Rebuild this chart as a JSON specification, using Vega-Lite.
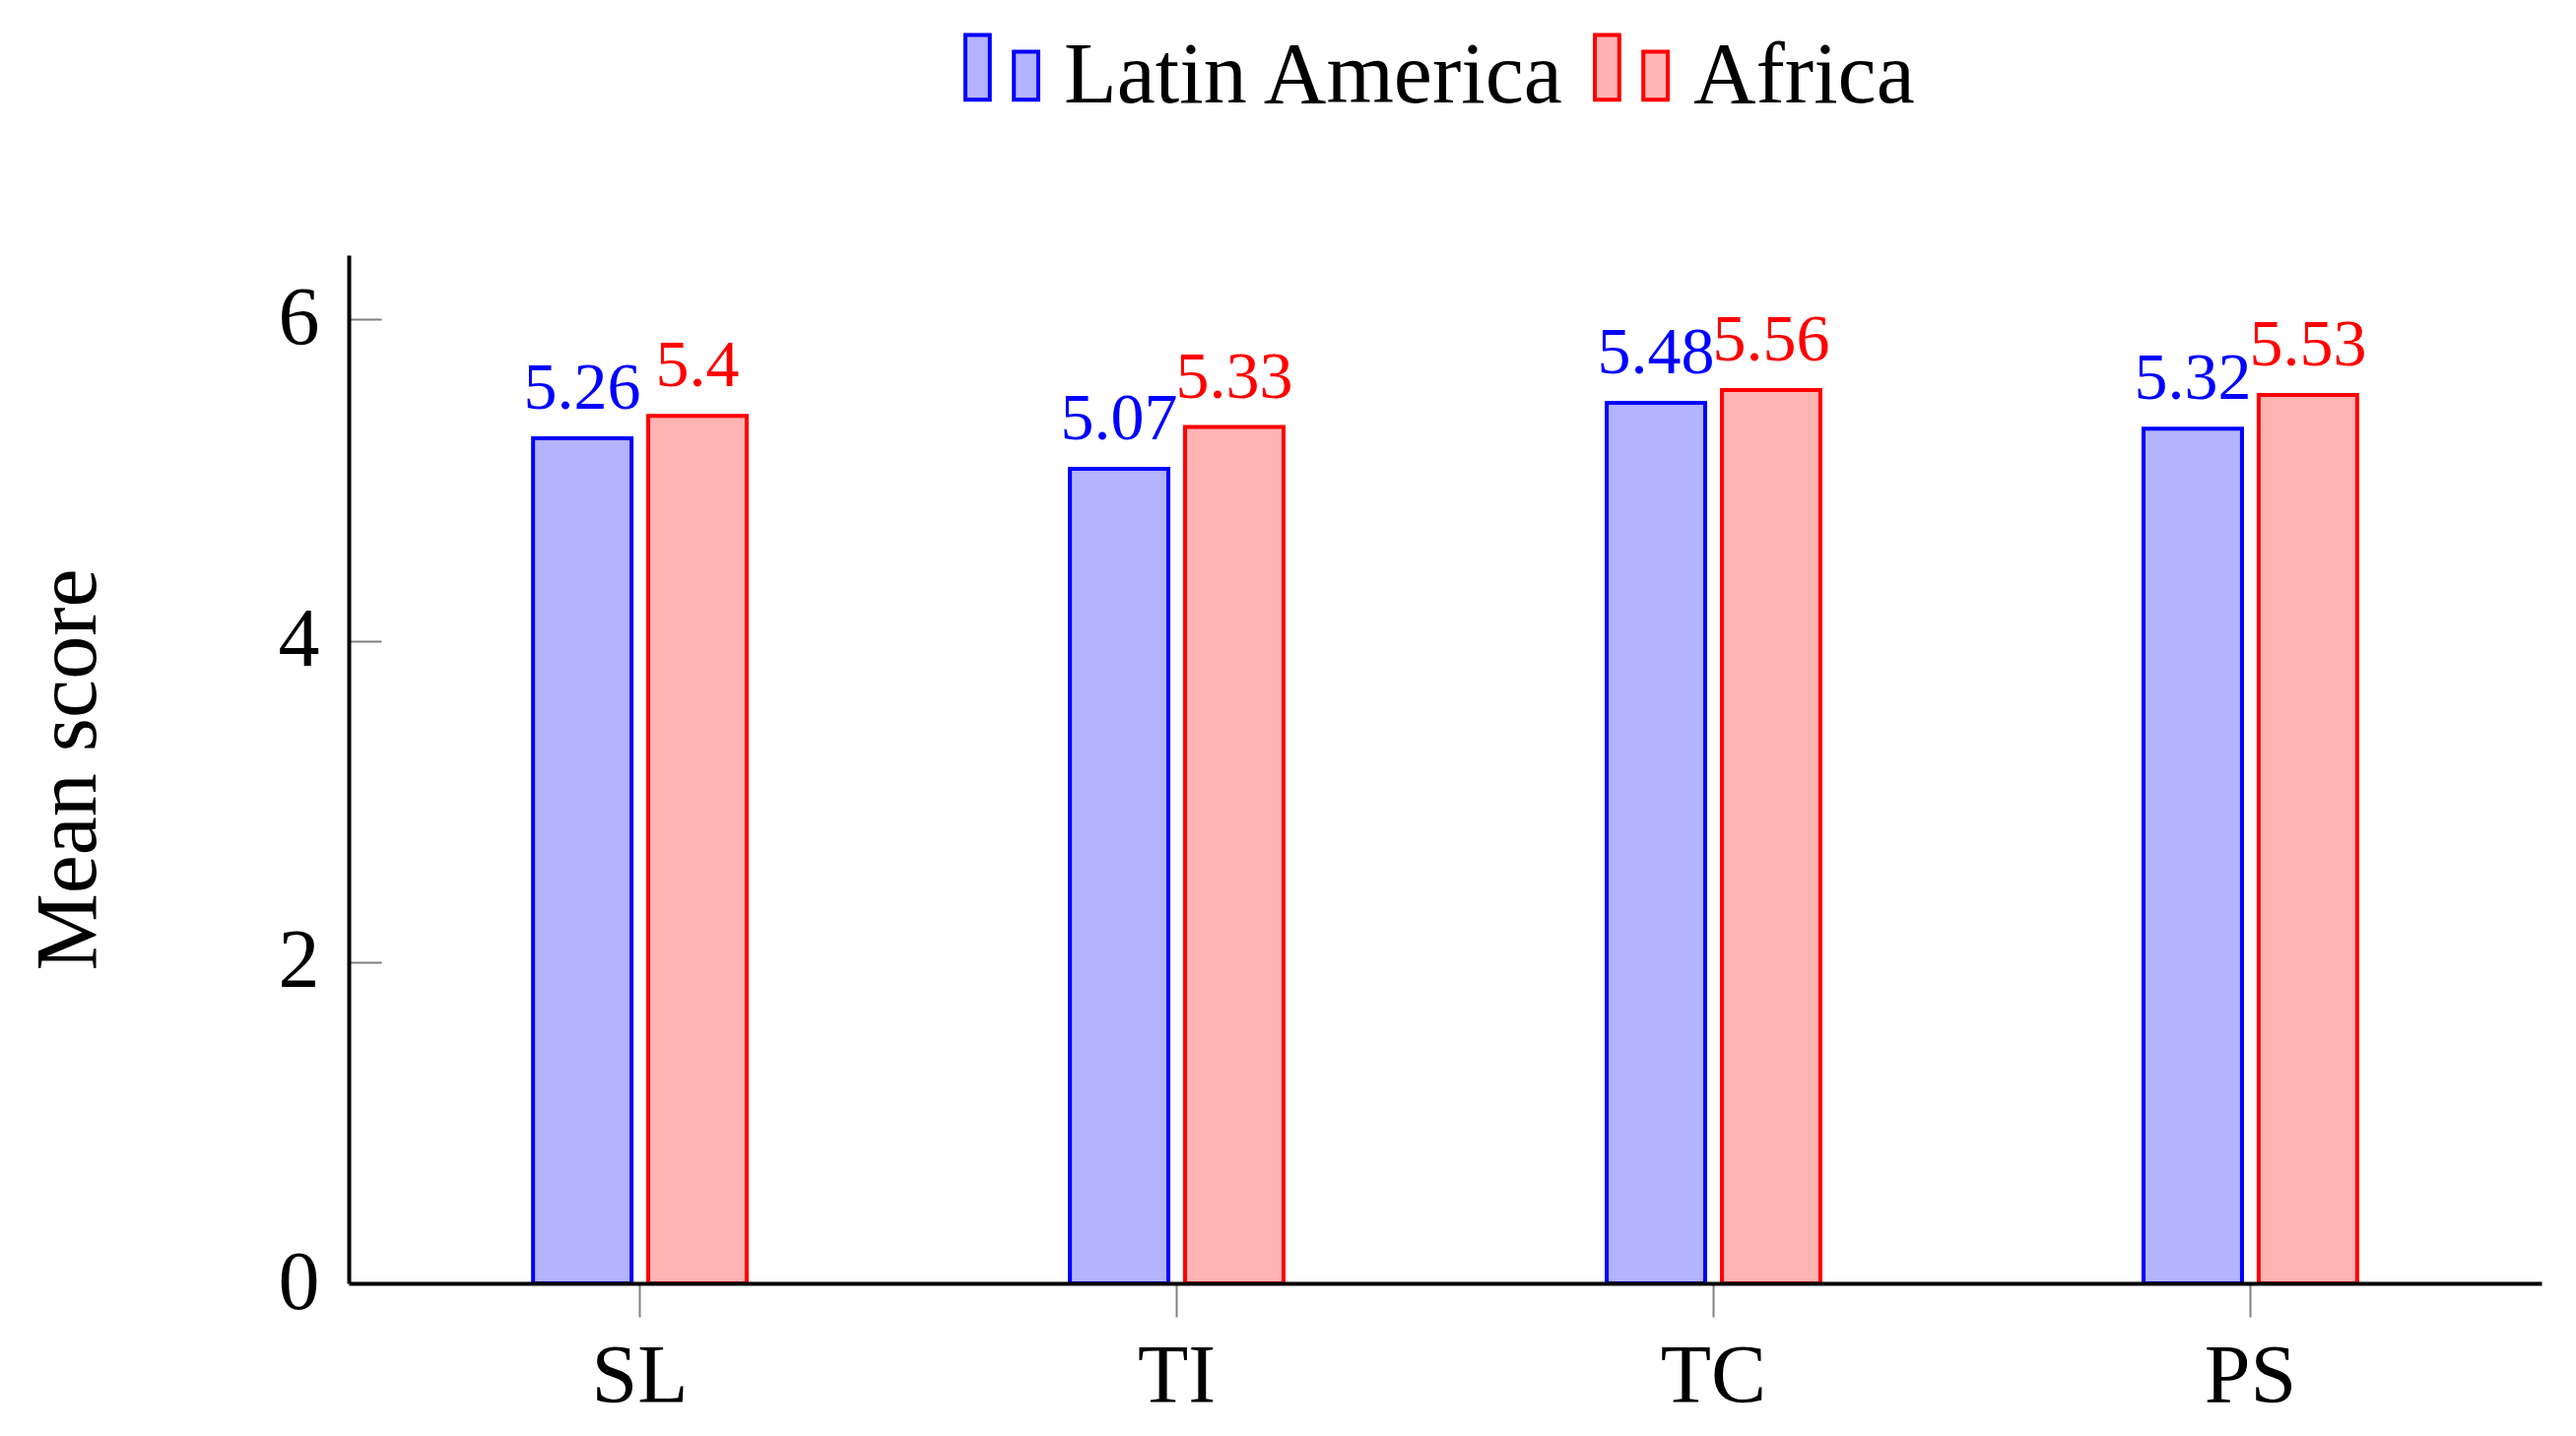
{
  "$schema": "https://vega.github.io/schema/vega-lite/v6.json",
  "autosize": "none",
  "width": 2226,
  "height": 1044,
  "padding": {"left": 354, "top": 259, "right": 35, "bottom": 155},
  "background": "white",
  "config": {
    "font": "Liberation Serif",
    "view": {"stroke": null},
    "axis": {
      "labelFont": "Liberation Serif",
      "titleFont": "Liberation Serif",
      "labelColor": "black",
      "titleColor": "black",
      "labelFontSize": 84,
      "titleFontSize": 88,
      "titleFontWeight": "normal",
      "domainColor": "black",
      "domainWidth": 4,
      "tickColor": "#808080",
      "tickWidth": 2,
      "grid": false
    }
  },
  "data": {
    "values": [
      {"category": "SL", "region": "Latin America", "value": 5.26},
      {"category": "SL", "region": "Africa", "value": 5.4},
      {"category": "TI", "region": "Latin America", "value": 5.07},
      {"category": "TI", "region": "Africa", "value": 5.33},
      {"category": "TC", "region": "Latin America", "value": 5.48},
      {"category": "TC", "region": "Africa", "value": 5.56},
      {"category": "PS", "region": "Latin America", "value": 5.32},
      {"category": "PS", "region": "Africa", "value": 5.53}
    ]
  },
  "encoding": {
    "x": {
      "field": "category",
      "type": "nominal",
      "sort": ["SL", "TI", "TC", "PS"],
      "scale": {"paddingInner": 0.602, "paddingOuter": 0.3434},
      "axis": {
        "title": null,
        "labelAngle": 0,
        "tickSize": 34,
        "labelPadding": 20,
        "zindex": 2
      }
    },
    "xOffset": {
      "field": "region",
      "type": "nominal",
      "sort": ["Latin America", "Africa"],
      "scale": {"paddingInner": 0.145, "paddingOuter": 0}
    },
    "y": {
      "field": "value",
      "type": "quantitative",
      "scale": {"domain": [0, 6.4], "nice": false, "zero": true},
      "axis": {
        "title": "Mean score",
        "values": [0, 2, 4, 6],
        "tickSize": -33,
        "labelPadding": 63,
        "titlePadding": 168
      }
    }
  },
  "layer": [
    {
      "mark": {"type": "bar", "strokeWidth": 4},
      "encoding": {
        "fill": {
          "field": "region",
          "type": "nominal",
          "scale": {"domain": ["Latin America", "Africa"], "range": ["#b3b3ff", "#ffb3b3"]},
          "legend": {
            "title": null,
            "orient": "none",
            "direction": "horizontal",
            "legendX": 619,
            "legendY": -225,
            "padding": 0,
            "symbolType": "M-1,-1.15H-0.33V0.63H-1Z M0.33,-0.69H1V0.63H0.33Z",
            "symbolSize": 5476,
            "symbolStrokeWidth": 4,
            "symbolOpacity": 1,
            "labelFont": "Liberation Serif",
            "labelFontSize": 88,
            "labelColor": "black",
            "labelOffset": 19,
            "labelLimit": 0,
            "columnPadding": 20
          }
        },
        "stroke": {
          "field": "region",
          "type": "nominal",
          "scale": {"domain": ["Latin America", "Africa"], "range": ["#0000ff", "#ff0000"]},
          "legend": {
            "title": null,
            "orient": "none",
            "direction": "horizontal",
            "legendX": 619,
            "legendY": -225,
            "padding": 0,
            "symbolType": "M-1,-1.15H-0.33V0.63H-1Z M0.33,-0.69H1V0.63H0.33Z",
            "symbolSize": 5476,
            "symbolStrokeWidth": 4,
            "symbolOpacity": 1,
            "labelFont": "Liberation Serif",
            "labelFontSize": 88,
            "labelColor": "black",
            "labelOffset": 19,
            "labelLimit": 0,
            "columnPadding": 20
          }
        }
      }
    },
    {
      "mark": {"type": "text", "baseline": "alphabetic", "dy": -30, "fontSize": 68, "font": "Liberation Serif"},
      "encoding": {
        "text": {"field": "value", "type": "quantitative"},
        "color": {
          "field": "region",
          "type": "nominal",
          "scale": {"domain": ["Latin America", "Africa"], "range": ["#0000ff", "#ff0000"]},
          "legend": null
        }
      }
    }
  ]
}
